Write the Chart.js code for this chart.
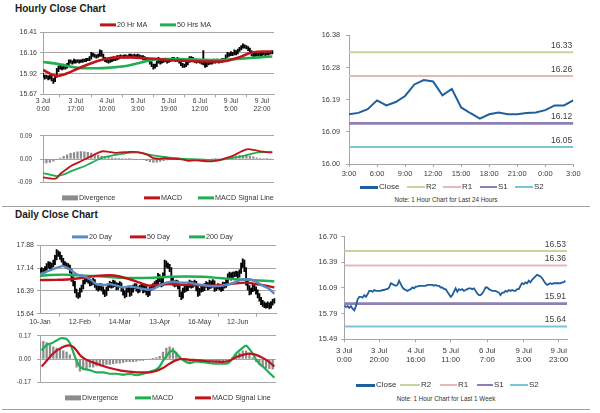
<!DOCTYPE html>
<html>
<head>
<meta charset="utf-8">
<script src="https://cdn.jsdelivr.net/npm/chart.js@4.4.0/dist/chart.umd.min.js"></script>
<style>
  body { margin: 0; width: 600px; height: 413px; position: relative; overflow: hidden; background: #fff;
         font-family: "Liberation Sans", Arial, sans-serif; color: #333; }
  .t { position: absolute; font-weight: bold; font-size: 10px; color: #1a1a1a; line-height: 1; }
  .lg { position: absolute; display: flex; align-items: center; white-space: nowrap; line-height: 1; transform: translateY(-50%); }
  .lg i { display: inline-block; width: 16px; margin-right: 1px; }
  .note { position: absolute; font-size: 6.3px; transform: translateX(-50%); white-space: nowrap; line-height: 1; }
  .sep { position: absolute; left: 2px; width: 588px; height: 1px; background: #a0a0a0; }
</style>
</head>
<body>
<div class="t" style="left:15px;top:4px">Hourly Close Chart</div>
<div class="t" style="left:15px;top:210px">Daily Close Chart</div>
<div class="note" style="left:446px;top:197px">Note: 1 Hour Chart for Last 24 Hours</div>
<div class="note" style="left:446px;top:396px">Note: 1 Hour Chart for Last 1 Week</div>
<div class="sep" style="top:206px"></div>
<div class="sep" style="top:409px"></div>

<script>
// ---- hourly data, 3 Jul 0:00 .. 9 Jul 23:00 (one value per hour bar) ----
var hourClose = [15.89,15.87,15.88,15.86,15.88,15.85,15.83,15.88,15.96,15.99,
  15.99,15.98,16.01,15.99,16.02,16.06,16.06,16.05,16.07,16.06,
  16.06,16.06,16.06,16.07,16.07,16.08,16.08,16.10,16.15,16.14,
  16.13,16.12,16.13,16.18,16.14,16.10,16.08,16.07,16.06,16.07,
  16.08,16.10,16.09,16.11,16.11,16.12,16.12,16.12,16.12,16.12,
  16.13,16.13,16.13,16.13,16.12,16.13,16.12,16.12,16.10,16.10,
  16.08,16.08,16.05,16.02,15.99,16.01,16.05,16.09,16.05,16.08,
  16.07,16.08,16.06,16.07,16.08,16.09,16.09,16.08,16.09,16.06,
  16.03,16.01,16.01,16.03,16.06,16.10,16.10,16.08,16.07,16.06,
  16.06,16.06,16.05,16.04,16.01,16.04,16.04,16.06,16.05,16.07,
  16.06,16.07,16.06,16.06,16.08,16.08,16.12,16.15,16.14,16.16,
  16.15,16.18,16.16,16.19,16.21,16.23,16.25,16.24,16.23,16.21,
  16.18,16.15,16.13,16.14,16.15,16.14,16.15,16.15,16.15,16.15,
  16.15,16.16,16.16,16.18];
var hourLow = [15.87,15.85,15.86,15.84,15.85,15.83,15.80,15.82,15.87,15.94,
  15.97,15.96,15.97,15.97,15.98,16.01,16.04,16.03,16.04,16.04,
  16.05,16.04,16.05,16.05,16.06,16.06,16.07,16.07,16.09,16.12,
  16.11,16.10,16.11,16.12,16.12,16.08,16.06,16.05,16.04,16.05,
  16.06,16.07,16.07,16.08,16.09,16.10,16.11,16.10,16.11,16.10,
  16.11,16.12,16.11,16.12,16.10,16.11,16.10,16.11,16.08,16.08,
  16.06,16.06,16.03,16.00,15.97,15.98,16.00,16.04,16.03,16.04,
  16.05,16.06,16.04,16.05,16.06,16.07,16.08,16.06,16.07,16.04,
  16.01,15.99,15.99,16.00,16.02,16.05,16.08,16.06,16.05,16.04,
  16.05,16.04,16.03,16.02,15.99,16.00,16.02,16.03,16.03,16.04,
  16.04,16.05,16.04,16.05,16.05,16.06,16.07,16.11,16.12,16.13,
  16.13,16.14,16.14,16.15,16.18,16.20,16.22,16.22,16.21,16.19,
  16.16,16.13,16.11,16.12,16.13,16.12,16.13,16.13,16.14,16.13,
  16.14,16.14,16.15,16.15];
var hourHigh = [15.92,15.90,15.90,15.89,15.90,15.89,15.86,15.90,15.98,16.01,
  16.02,16.00,16.03,16.02,16.04,16.08,16.08,16.07,16.09,16.08,
  16.08,16.08,16.08,16.09,16.09,16.10,16.10,16.12,16.17,16.16,
  16.15,16.14,16.15,16.20,16.19,16.15,16.11,16.09,16.08,16.09,
  16.10,16.12,16.11,16.13,16.13,16.14,16.13,16.14,16.14,16.13,
  16.15,16.15,16.14,16.15,16.14,16.15,16.14,16.13,16.13,16.12,
  16.11,16.10,16.09,16.06,16.03,16.03,16.07,16.11,16.10,16.10,
  16.09,16.10,16.09,16.09,16.10,16.11,16.11,16.10,16.11,16.10,
  16.07,16.04,16.03,16.05,16.08,16.12,16.12,16.11,16.09,16.08,
  16.08,16.08,16.07,16.19,16.05,16.06,16.06,16.08,16.07,16.09,
  16.08,16.09,16.08,16.08,16.10,16.10,16.14,16.17,16.16,16.18,
  16.17,16.20,16.19,16.21,16.23,16.25,16.27,16.26,16.25,16.24,
  16.22,16.19,16.16,16.16,16.17,16.16,16.16,16.17,16.17,16.16,
  16.17,16.18,16.18,16.19];
var ma20Idx = [0,8,14,20,28,36,43,51,59,67,74,82,90,98,105,113,121,129,133];
var ma20 = [15.96,15.89,15.92,15.975,16.04,16.09,16.11,16.11,16.10,16.09,16.075,16.07,16.063,16.06,16.063,16.105,16.167,16.18,16.18];
var ma50Idx = [0,9,16,24,32,40,47,55,63,71,78,86,94,102,109,117,125,133];
var ma50 = [16.055,16.03,16.00,15.98,15.98,15.99,16.005,16.04,16.08,16.09,16.09,16.086,16.08,16.078,16.086,16.098,16.11,16.12];
var hMacdIdx = [0,3,6,8,10,13,16,20,24,28,32,35,38,42,45,49,53,57,61,64,67,71,74,78,82,84,88,92,96,100,103,107,111,115,119,123,127,131,133];
var hMacd = [-0.071,-0.074,-0.077,-0.074,-0.058,-0.043,-0.028,-0.015,-0.002,0.011,0.024,0.030,0.028,0.024,0.026,0.027,0.028,0.024,0.015,0.003,
  0.001,0.003,0.001,0.000,-0.003,-0.007,-0.005,-0.007,-0.009,-0.007,-0.003,0.005,0.015,0.029,0.038,0.034,0.029,0.026,0.026];
var hSigIdx = [0,4,8,13,16,20,24,28,32,36,40,43,47,51,55,59,63,67,71,74,78,82,86,90,94,98,102,105,109,113,117,121,125,129,133];
var hSig = [-0.055,-0.061,-0.066,-0.058,-0.048,-0.038,-0.028,-0.015,-0.002,0.008,0.013,0.017,0.021,0.025,0.026,0.021,0.015,0.011,0.008,0.005,
  0.003,0.000,-0.001,-0.002,-0.003,-0.004,-0.004,-0.001,0.003,0.008,0.013,0.020,0.026,0.027,0.027];
// divergence, every second hour bar
var hDiv = [-0.015,-0.015,-0.013,-0.008,-0.003,0.004,0.010,0.016,0.022,0.025,
  0.028,0.029,0.028,0.026,0.023,0.019,0.015,0.011,0.008,0.006,
  0.005,0.004,0.003,0.002,0.002,0.001,0.000,-0.001,-0.002,-0.003,
  -0.006,-0.010,-0.013,-0.012,-0.009,-0.006,-0.004,-0.003,-0.002,-0.002,
  -0.003,-0.003,-0.004,-0.003,-0.003,-0.002,-0.002,-0.001,-0.001,0.000,
  0.001,0.002,0.003,0.005,0.007,0.009,0.011,0.013,0.014,0.013,
  0.011,0.008,0.005,0.003,0.002,0.001,0.000];
var hourTickIdx = [0,19,37,55,73,91,109,127];
var hourTickLabels = [["3 Jul","0:00"],["3 Jul","17:00"],["4 Jul","10:00"],["5 Jul","3:00"],["5 Jul","19:00"],["6 Jul","12:00"],["9 Jul","5:00"],["9 Jul","22:00"]];
var hPriceTicks = [15.67, 15.9167, 16.1633, 16.41];
var hPriceLabels = ["15.67","15.92","16.16","16.41"];
var hMacdTicks = [-0.09, 0, 0.09];
var hMacdLabels = ["-0.09","0.00","0.09"];

// ---- last 24 hours ----
var last24Close = [16.147,16.151,16.162,16.188,16.173,16.183,16.201,16.235,16.248,16.244,16.203,16.222,16.167,
  16.150,16.134,16.147,16.152,16.147,16.147,16.151,16.152,16.159,16.173,16.173,16.188];
var last24Levels = [16.33, 16.26, 16.12, 16.05]; // R2 R1 S1 S2
var last24TickIdx = [0,3,6,9,12,15,18,21,24];
var last24TickLabels = ["3:00","6:00","9:00","12:00","15:00","18:00","21:00","0:00","3:00"];
var last24Ticks = [16.00, 16.095, 16.19, 16.285, 16.38];
var last24Labels = ["16.00","16.09","16.19","16.28","16.38"];

// ---- last week (uses hourClose) ----
var weekLevels = [16.53, 16.36, 15.91, 15.64];
var weekTickIdx = [0,21,43,64,86,108,129];
var weekTickLabels = [["3 Jul","0:00"],["3 Jul","20:00"],["4 Jul","16:00"],["5 Jul","11:00"],["6 Jul","7:00"],["9 Jul","3:00"],["9 Jul","23:00"]];
var weekTicks = [15.49, 15.7925, 16.095, 16.3975, 16.70];
var weekLabels = ["15.49","15.79","16.09","16.39","16.70"];

// ---- daily data ----
var dayLow = [16.96,16.99,16.95,16.98,17.06,17.14,17.10,17.12,17.17,17.25,
  17.40,17.52,17.42,17.33,17.20,17.17,17.13,17.10,16.98,16.70,
  16.55,16.32,16.18,16.14,16.18,16.35,16.45,16.62,16.68,16.64,
  16.55,16.57,16.60,16.50,16.42,16.38,16.42,16.39,16.28,16.20,
  16.24,16.40,16.50,16.48,16.50,16.53,16.42,16.44,16.50,16.37,
  16.25,16.16,16.20,16.35,16.21,16.24,16.35,16.45,16.38,16.32,
  16.35,16.45,16.32,16.35,16.26,16.20,16.24,16.40,16.45,16.50,
  16.55,16.60,16.68,16.52,16.55,16.85,17.16,17.12,17.02,16.68,
  16.57,16.52,16.54,16.45,16.20,16.10,16.15,16.34,16.37,16.40,
  16.50,16.48,16.50,16.54,16.39,16.21,16.24,16.35,16.37,16.40,
  16.50,16.42,16.45,16.48,16.50,16.37,16.40,16.45,16.42,16.37,
  16.40,16.48,16.50,16.63,16.82,16.74,16.76,16.85,16.86,16.82,
  16.84,16.96,17.16,17.02,16.58,16.42,16.26,16.28,16.36,16.39,
  16.28,16.16,16.05,15.94,15.88,15.84,15.82,15.84,15.80,15.82,
  15.92,15.99];
var dayHigh = [17.12,17.15,17.12,17.18,17.28,17.35,17.33,17.30,17.40,17.55,
  17.74,17.70,17.66,17.55,17.45,17.35,17.31,17.28,17.23,17.10,
  16.85,16.70,16.45,16.33,16.48,16.58,16.74,16.90,16.88,16.82,
  16.78,16.74,16.80,16.76,16.64,16.56,16.63,16.62,16.52,16.42,
  16.52,16.63,16.70,16.67,16.74,16.72,16.66,16.64,16.69,16.65,
  16.50,16.40,16.47,16.53,16.50,16.47,16.58,16.63,16.62,16.52,
  16.57,16.64,16.60,16.57,16.55,16.40,16.52,16.58,16.63,16.69,
  16.74,16.96,16.92,16.82,16.98,17.40,17.36,17.30,17.26,17.15,
  16.84,16.72,16.74,16.72,16.58,16.36,16.48,16.58,16.56,16.63,
  16.74,16.71,16.69,16.74,16.70,16.53,16.47,16.57,16.56,16.63,
  16.69,16.66,16.74,16.71,16.76,16.72,16.57,16.63,16.61,16.55,
  16.68,16.67,16.76,16.95,17.00,16.98,17.00,17.01,17.04,17.02,
  17.08,17.30,17.44,17.40,17.15,16.72,16.56,16.48,16.63,16.62,
  16.52,16.42,16.30,16.18,16.08,16.03,15.99,16.03,16.00,16.04,
  16.11,16.14];
var sma20Idx = [0,10,14,18,22,26,30,34,38,42,46,50,54,58,62,66,69,72,76,80,84,90,94,98,104,110,116,122,126,130,134,138,141];
var sma20 = [16.93,17.14,17.20,17.09,16.93,16.88,16.77,16.61,16.58,16.61,16.56,16.50,16.54,16.50,16.45,16.43,16.47,16.56,16.66,16.69,
  16.66,16.66,16.61,16.58,16.54,16.56,16.64,16.77,16.77,16.69,16.56,16.45,16.29];
var sma50Idx = [0,10,18,26,34,42,48,54,60,66,70,78,86,94,102,110,118,124,130,136,141];
var sma50 = [16.74,16.75,16.77,16.82,16.88,16.90,16.86,16.77,16.66,16.56,16.58,16.61,16.59,16.58,16.56,16.58,16.64,16.66,16.61,16.56,16.50];
var sma200Idx = [0,6,14,22,30,38,48,58,68,78,88,98,108,118,128,138,141];
var sma200 = [16.88,16.91,16.92,16.90,16.88,16.86,16.82,16.81,16.82,16.85,16.86,16.85,16.81,16.77,16.74,16.71,16.70];
var dMacdIdx = [1,4,7,10,13,16,18,20,22,24,26,30,34,38,42,46,50,54,58,62,66,70,72,74,76,78,80,82,84,86,90,94,98,106,112,114,116,118,121,124,126,128,130,132,134,136,138,141];
var dMacd = [0.062,0.104,0.115,0.136,0.153,0.147,0.115,0.051,-0.013,-0.055,-0.072,-0.081,-0.098,-0.098,-0.108,-0.108,-0.115,-0.108,-0.119,-0.108,
  -0.093,-0.077,-0.055,-0.013,0.019,0.051,0.062,0.040,0.013,-0.008,-0.030,-0.017,-0.023,-0.034,-0.034,-0.023,0.008,0.040,0.072,0.098,
  0.072,0.040,-0.002,-0.034,-0.055,-0.077,-0.102,-0.136];
var dSigIdx = [1,4,7,10,13,17,20,22,24,26,30,34,38,42,46,50,54,58,62,66,70,74,78,82,86,90,94,98,106,110,114,118,122,126,130,134,138,141];
var dSig = [-0.055,-0.013,0.030,0.062,0.083,0.100,0.089,0.062,0.030,0.008,-0.017,-0.034,-0.051,-0.066,-0.077,-0.087,-0.093,-0.098,-0.098,-0.098,
  -0.087,-0.066,-0.034,-0.008,0.000,-0.006,-0.008,-0.013,-0.019,-0.021,-0.013,0.013,0.030,0.040,0.030,0.008,-0.023,-0.055];
// divergence, every second day
var dDiv = [0.12,0.13,0.12,0.10,0.09,0.08,0.07,0.06,0.05,0.03,
  0.00,-0.06,-0.09,-0.08,-0.07,-0.06,-0.06,-0.05,-0.05,-0.045,
  -0.04,-0.04,-0.035,-0.03,-0.03,-0.025,-0.02,-0.02,-0.02,-0.015,
  -0.01,-0.01,-0.005,0.00,0.005,0.01,0.02,0.05,0.08,0.09,
  0.08,0.05,0.02,-0.005,-0.02,-0.025,-0.02,-0.01,-0.01,-0.01,
  -0.01,-0.015,-0.015,-0.015,-0.015,-0.012,-0.01,-0.005,0.01,0.03,
  0.045,0.06,0.06,0.04,0.01,-0.02,-0.04,-0.055,-0.065,-0.07,
  -0.075];
var dayTickIdx = [0,24,48,72,96,119];
var dayTickLabels = ["10-Jan","12-Feb","14-Mar","13-Apr","16-May","12-Jun"];
var dPriceTicks = [15.643, 16.39, 17.137, 17.883];
var dPriceLabels = ["15.64","16.39","17.14","17.88"];
var dMacdTicks = [-0.17, 0, 0.17];
var dMacdLabels = ["-0.17","0.00","0.17"];

// ---- styles ----
var GRID = '#a6a6a6';
var RED = '#c0141c', GREEN = '#1fae50', BLUE = '#5a8ac6', CLOSE = '#1f5f9e', DIV = '#8c8c8c';
var LEVEL_COLORS = ['#c3d69b', '#e6b9b8', '#8e7fb5', '#79c6d7'];
var LEVEL_WIDTHS = [2, 2, 2.6, 2];

Chart.defaults.font.family = '"Liberation Sans", Arial, sans-serif';
Chart.defaults.color = '#3a3a3a';

function frame(l, t, w, h) {
  var d = document.createElement('div');
  d.style.cssText = 'position:absolute;left:' + l + 'px;top:' + t + 'px;width:' + w + 'px;height:' + h + 'px';
  var c = document.createElement('canvas');
  d.appendChild(c);
  document.body.appendChild(d);
  return c;
}

function pts(idx, vals) { return vals.map(function (v, i) { return { x: idx[i], y: v }; }); }
function seq(vals, step) { return vals.map(function (v, i) { return { x: i * step, y: v }; }); }
function ranges(lo, hi) { return lo.map(function (v, i) { return { x: i, y: [v, hi[i]] }; }); }

function line(data, color, width, order, smooth) {
  return { type: 'line', data: data, borderColor: color, borderWidth: width, pointRadius: 0,
           cubicInterpolationMode: smooth ? 'monotone' : 'default', tension: smooth ? 0.4 : 0, fill: false, order: order };
}
function bars(data, color, thick, order) {
  return { type: 'bar', data: data, backgroundColor: color, barThickness: thick, order: order };
}
function levelLines(levels, xmax) {
  return levels.map(function (lv, i) {
    return line([{ x: 0, y: lv }, { x: xmax, y: lv }], LEVEL_COLORS[i], LEVEL_WIDTHS[i], 5 + i, false);
  });
}
function levelText(levels) {
  return {
    id: 'levelText',
    afterDatasetsDraw: function (chart) {
      var ctx = chart.ctx, y = chart.scales.y, a = chart.chartArea;
      ctx.save();
      ctx.font = '8.5px "Liberation Sans", Arial';
      ctx.fillStyle = '#404040';
      ctx.textAlign = 'right';
      ctx.textBaseline = 'bottom';
      levels.forEach(function (v) { ctx.fillText(v.toFixed(2), a.right - 1, y.getPixelForValue(v) - 2.5); });
      ctx.restore();
    }
  };
}

// one chart panel: frame box plus the wanted plot area
function panel(o) {
  var c = frame(o.left, o.top, o.width, o.height);
  var xh = o.top + o.height - o.plot.b;
  return new Chart(c, {
    type: 'line',
    data: { datasets: o.datasets },
    plugins: o.plugins || [],
    options: {
      responsive: true, maintainAspectRatio: false, animation: false, events: [],
      layout: { autoPadding: false,
        padding: { left: 0, top: o.plot.t - o.top, right: o.left + o.width - o.plot.r, bottom: o.x.show ? 0 : xh } },
      plugins: { legend: { display: false }, tooltip: { enabled: false } },
      scales: {
        x: {
          type: 'linear', min: o.x.min, max: o.x.max, offset: false, display: !!o.x.show,
          grid: { drawOnChartArea: false, tickLength: 3, color: GRID },
          border: { color: GRID },
          afterBuildTicks: function (s) { s.ticks = o.x.ticks.map(function (v) { return { value: v }; }); },
          afterFit: function (s) { s.height = o.x.show ? xh : 0; },
          ticks: { autoSkip: false, maxRotation: 0, minRotation: 0, padding: o.x.pad || 0,
                   font: { size: o.x.size || 7, lineHeight: o.x.lh || 1.2 },
                   callback: function (v, i) { return o.x.labels[i]; } }
        },
        y: {
          type: 'linear', min: o.y.min, max: o.y.max,
          grid: { drawOnChartArea: o.y.grid, tickLength: 3, color: GRID },
          border: { color: GRID },
          afterBuildTicks: function (s) { s.ticks = o.y.ticks.map(function (v) { return { value: v }; }); },
          afterFit: function (s) { s.width = o.plot.l - o.left; },
          ticks: { padding: o.y.pad, font: { size: o.y.size }, callback: function (v, i) { return o.y.labels[i]; } }
        }
      }
    }
  });
}

function legend(top, size, items) {
  items.forEach(function (it) {
    var d = document.createElement('div');
    d.className = 'lg';
    d.style.left = it[2] + 'px';
    d.style.top = top + 'px';
    d.style.fontSize = size + 'px';
    d.innerHTML = '<i style="background:' + it[1] + ';height:' + (it[3] || 3) + 'px;width:' + (it[4] || 16) + 'px"></i>' + it[0];
    document.body.appendChild(d);
  });
}

// Hourly close chart
panel({
  left: 0, top: 25, width: 285, height: 90, plot: { l: 43, t: 30.7, r: 274, b: 94.3 },
  x: { min: 0, max: 134, ticks: hourTickIdx, labels: hourTickLabels, size: 6.8, lh: 1.15, pad: 0, show: true },
  y: { min: 15.67, max: 16.41, ticks: hPriceTicks, labels: hPriceLabels, size: 7, pad: 3, grid: true },
  datasets: [
    line(pts(ma20Idx, ma20), RED, 2.6, 0, true),
    line(pts(ma50Idx, ma50), GREEN, 2.6, 1, true),
    bars(ranges(hourLow, hourHigh), '#000', 1.2, 2)
  ]
});
legend(25, 7.2, [["20 Hr MA", RED, 100], ["50 Hrs MA", GREEN, 160]]);

// Hourly MACD
panel({
  left: 0, top: 124, width: 285, height: 70, plot: { l: 43, t: 131, r: 274, b: 189 },
  x: { min: 0, max: 134, ticks: hourTickIdx, labels: hourTickLabels, show: false },
  y: { min: -0.09, max: 0.09, ticks: hMacdTicks, labels: hMacdLabels, size: 6.3, pad: 8, grid: true },
  datasets: [
    line(pts(hMacdIdx, hMacd), RED, 1.8, 0, true),
    line(pts(hSigIdx, hSig), GREEN, 1.8, 1, true),
    bars(seq(hDiv, 2), DIV, 1.6, 2)
  ]
});
legend(198, 7.2, [["Divergence", DIV, 62, 5], ["MACD", RED, 144], ["MACD Signal Line", GREEN, 198]]);

// Last 24 hours
panel({
  left: 300, top: 25, width: 290, height: 155, plot: { l: 349, t: 32.7, r: 573.3, b: 164 },
  x: { min: 0, max: 24, ticks: last24TickIdx, labels: last24TickLabels, size: 7.5, lh: 1.2, pad: 2.5, show: true },
  y: { min: 16.00, max: 16.38, ticks: last24Ticks, labels: last24Labels, size: 7.3, pad: 6, grid: false },
  datasets: [line(seq(last24Close, 1), CLOSE, 2, 0, false)].concat(levelLines(last24Levels, 24)),
  plugins: [levelText(last24Levels)]
});
legend(187, 8, [["Close", CLOSE, 360, 3, 18], ["R2", LEVEL_COLORS[0], 407, 2, 18], ["R1", LEVEL_COLORS[1], 443, 2, 18],
                ["S1", LEVEL_COLORS[2], 480, 2, 17], ["S2", LEVEL_COLORS[3], 515, 2, 18]]);

// Daily close chart
panel({
  left: 0, top: 238, width: 285, height: 90, plot: { l: 40, t: 244, r: 276, b: 313.7 },
  x: { min: 0, max: 142, ticks: dayTickIdx, labels: dayTickLabels, size: 7, lh: 1.2, pad: 1, show: true },
  y: { min: 15.643, max: 17.883, ticks: dPriceTicks, labels: dPriceLabels, size: 7, pad: 3, grid: true },
  datasets: [
    line(pts(sma20Idx, sma20), BLUE, 2.4, 0, true),
    line(pts(sma50Idx, sma50), RED, 2.4, 1, true),
    line(pts(sma200Idx, sma200), GREEN, 2.4, 2, true),
    bars(ranges(dayLow, dayHigh), '#000', 1.2, 3)
  ]
});
legend(237, 7.2, [["20 Day", BLUE, 72], ["50 Day", RED, 130], ["200 Day", GREEN, 189]]);

// Daily MACD
panel({
  left: 0, top: 326, width: 285, height: 66, plot: { l: 40, t: 332.7, r: 276, b: 387.3 },
  x: { min: 0, max: 142, ticks: dayTickIdx, labels: dayTickLabels, show: false },
  y: { min: -0.17, max: 0.17, ticks: dMacdTicks, labels: dMacdLabels, size: 6.3, pad: 6, grid: true },
  datasets: [
    line(pts(dSigIdx, dSig), RED, 2.2, 0, true),
    line(pts(dMacdIdx, dMacd), GREEN, 2.2, 1, true),
    bars(seq(dDiv, 2), DIV, 1.6, 2)
  ]
});
legend(397.5, 7.2, [["Divergence", DIV, 65, 5], ["MACD", GREEN, 135], ["MACD Signal Line", RED, 195]]);

// Last week
panel({
  left: 300, top: 228, width: 290, height: 140, plot: { l: 344.3, t: 235, r: 567, b: 339.3 },
  x: { min: 0, max: 134, ticks: weekTickIdx, labels: weekTickLabels, size: 7.8, lh: 1.2, pad: 4, show: true },
  y: { min: 15.49, max: 16.70, ticks: weekTicks, labels: weekLabels, size: 7.5, pad: 4, grid: false },
  datasets: [line(seq(hourClose, 1), CLOSE, 1.8, 0, false)].concat(levelLines(weekLevels, 134)),
  plugins: [levelText(weekLevels)]
});
legend(385, 8, [["Close", CLOSE, 356, 3, 19], ["R2", LEVEL_COLORS[0], 400, 2, 20], ["R1", LEVEL_COLORS[1], 440, 2, 17],
                ["S1", LEVEL_COLORS[2], 477, 2, 16], ["S2", LEVEL_COLORS[3], 510, 2, 18]]);
</script>
</body>
</html>
